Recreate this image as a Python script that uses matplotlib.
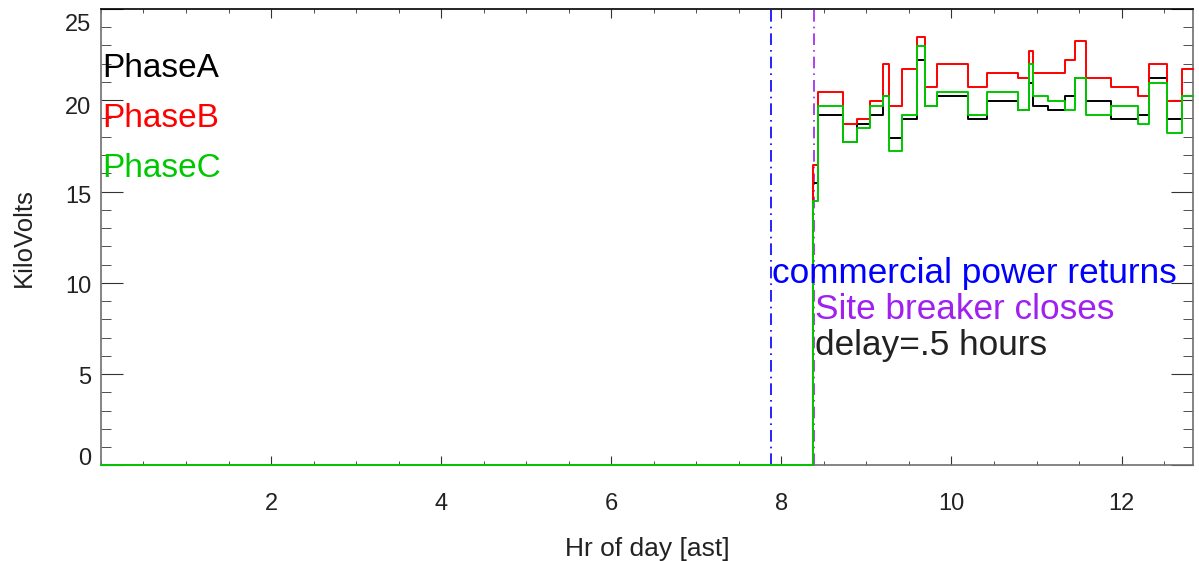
import matplotlib
matplotlib.use("Agg")
import matplotlib.pyplot as plt
from matplotlib.ticker import MultipleLocator
import matplotlib.transforms as mtransforms

plt.rcParams['font.family'] = ['Liberation Sans', 'DejaVu Sans']

# Breakpoint times (hours, AST) - value holds until next time
times = [0.0, 8.37, 8.43, 8.725, 8.886, 9.04, 9.19, 9.27, 9.42, 9.60, 9.69, 9.835,
         10.20, 10.42, 10.78, 10.91, 10.96, 11.14, 11.33, 11.45, 11.58, 11.88,
         12.19, 12.32, 12.53, 12.705, 12.84]

phase_a = [0, 15.47, 19.21, 17.70, 18.70, 19.21, 20.21, 17.95, 18.95, 22.22, 19.70, 20.21,
           18.95, 19.96, 19.46, 20.96, 19.70, 19.46, 20.21, 21.22, 19.96, 18.95,
           19.21, 21.22, 18.95, 20.21, 20.21]
phase_b = [0, 16.44, 20.45, 18.72, 18.97, 19.96, 21.98, 19.70, 21.71, 23.48, 20.71, 21.98,
           20.71, 21.47, 21.22, 22.71, 21.47, 21.47, 22.22, 23.22, 21.22, 20.71,
           20.21, 21.98, 19.96, 21.71, 21.71]
phase_c = [0, 14.47, 19.70, 17.70, 18.46, 19.70, 20.21, 17.20, 19.21, 22.97, 19.70, 20.45,
           19.21, 20.45, 19.46, 21.96, 20.21, 19.96, 19.46, 21.22, 19.21, 19.70,
           18.70, 20.96, 18.21, 20.21, 20.21]

power_return_hr = 7.88
breaker_close_hr = 8.38

xticks = [2, 4, 6, 8, 10, 12]
yticks = [0, 5, 10, 15, 20, 25]

fig = plt.figure(figsize=(11.99, 5.61), dpi=100)
ax = fig.add_axes([0.0842, 0.1706, 0.9108, 0.8134])

green = '#00c800'
ax.plot(times, phase_a, color='black', lw=1.4, drawstyle='steps-post', clip_on=False, zorder=3)
ax.plot(times, phase_b, color='#ff0000', lw=1.4, drawstyle='steps-post', clip_on=False, zorder=3)
ax.plot(times, phase_c, color=green, lw=1.4, drawstyle='steps-post', clip_on=False, zorder=3)

ax.axvline(power_return_hr, color='#0000ff', lw=1.2, ls=(0, (7, 3, 1, 3)))
ax.axvline(breaker_close_hr, color='#a020f0', lw=1.2, ls=(0, (7, 3, 1, 3)))

ax.set_xlim(0, 12.84)
ax.set_ylim(0, 25)
ax.set_xticks(xticks)
ax.set_yticks(yticks)
ax.xaxis.set_minor_locator(MultipleLocator(0.5))
ax.yaxis.set_minor_locator(MultipleLocator(1))

ax.tick_params(axis='both', which='both', direction='in', top=True, right=True,
               colors='#333333', labelcolor='#222222', labelsize=17)
ax.tick_params(axis='x', which='major', length=6.5, pad=20)
ax.tick_params(axis='x', which='minor', length=3)
ax.tick_params(axis='y', which='major', length=15.5, pad=7)
ax.tick_params(axis='y', which='minor', length=7.5)

for side in ['left', 'bottom', 'right']:
    ax.spines[side].set_color('#707070')
    ax.spines[side].set_linewidth(1.2)
ax.spines['top'].set_color('black')
ax.spines['top'].set_linewidth(1.2)

# shift y tick labels as in the reference (pixels, positive = up)
shifts = {0: 9, 5: -1, 10: -2, 15: -3, 20: -5, 25: -14}
for lab, val in zip(ax.get_yticklabels(), yticks):
    off = mtransforms.ScaledTranslation(0, shifts[val] / 100.0, fig.dpi_scale_trans)
    lab.set_transform(lab.get_transform() + off)

ax.set_xlabel('Hr of day [ast]', fontsize=19, color='#222222', labelpad=15.5)
ax.set_ylabel('KiloVolts', fontsize=18.5, color='#222222', labelpad=21)

ax.text(0.02, 21.3, 'PhaseA', color='black', fontsize=24)
ax.text(0.02, 18.53, 'PhaseB', color='#ff0000', fontsize=24)
ax.text(0.02, 15.8, 'PhaseC', color=green, fontsize=24)

ax.text(7.89, 10.0, 'commercial power returns', color='#0000ff', fontsize=25.3)
ax.text(8.40, 8.0, 'Site breaker closes', color='#a020f0', fontsize=25.3)
ax.text(8.40, 6.03, 'delay=.5 hours', color='#222222', fontsize=25.3)

fig.savefig('out.png', dpi=100)
